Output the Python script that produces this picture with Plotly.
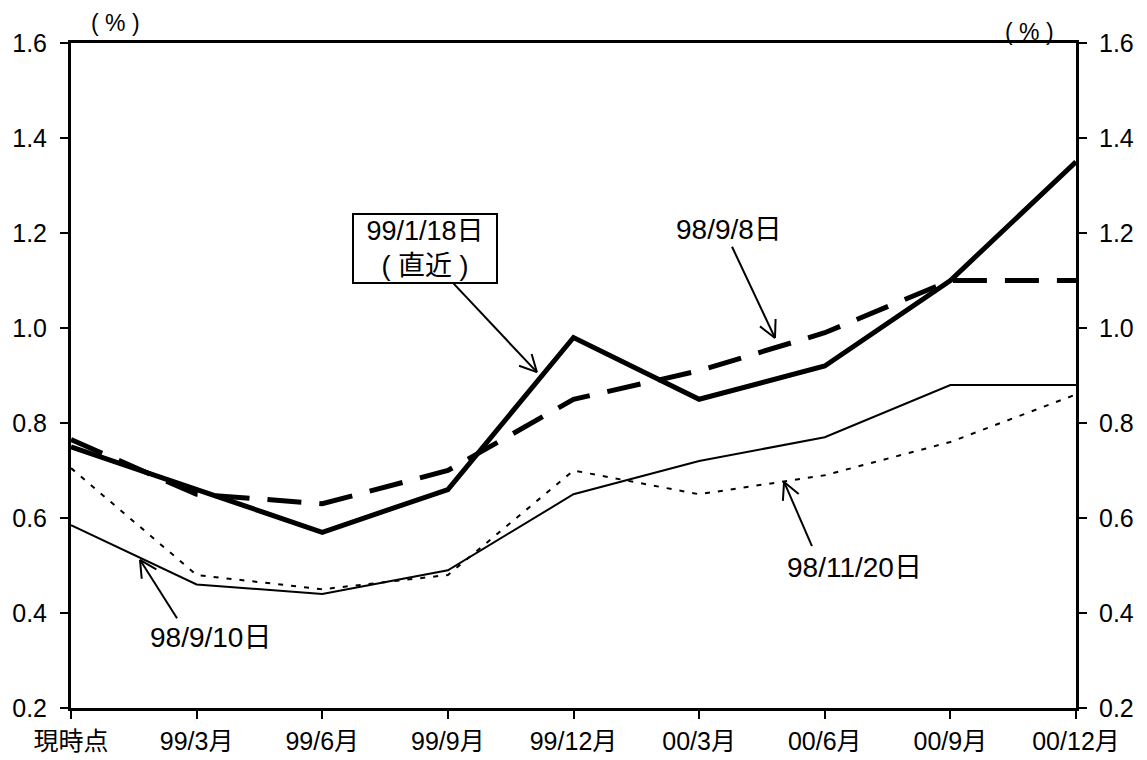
import math
import plotly.graph_objects as go

categories = ["現時点", "99/3月", "99/6月", "99/9月", "99/12月", "00/3月", "00/6月", "00/9月", "00/12月"]
s_990118 = [0.75, 0.66, 0.57, 0.66, 0.98, 0.85, 0.92, 1.10, 1.35]
s_980908 = [0.765, 0.65, 0.63, 0.70, 0.85, 0.91, 0.99, 1.10, 1.10]
s_980910 = [0.585, 0.46, 0.44, 0.49, 0.65, 0.72, 0.77, 0.88, 0.88]
s_981120 = [0.705, 0.48, 0.45, 0.48, 0.70, 0.65, 0.69, 0.76, 0.86]
y_ticks = [0.2, 0.4, 0.6, 0.8, 1.0, 1.2, 1.4, 1.6]

FONT = "Liberation Sans, Arial, Noto Sans CJK JP, sans-serif"
W, H = 1147, 760
ML, MR, MT, MB = 71, 71, 43, 52
YMIN, YMAX = 0.2, 1.6
XMAX = len(categories) - 1

fig = go.Figure()
fig.add_trace(go.Scatter(x=categories, y=s_981120, mode="lines", name="98/11/20日",
                         line=dict(color="black", width=2, dash="5px,8px")))
fig.add_trace(go.Scatter(x=categories, y=s_980910, mode="lines", name="98/9/10日",
                         line=dict(color="black", width=2)))
fig.add_trace(go.Scatter(x=categories, y=s_980908, mode="lines", name="98/9/8日",
                         line=dict(color="black", width=5, dash="34px,18px")))
fig.add_trace(go.Scatter(x=categories, y=s_990118, mode="lines", name="99/1/18日（直近）",
                         line=dict(color="black", width=5), yaxis="y2"))

axis_common = dict(showline=True, linecolor="black", linewidth=3, ticks="outside",
                   ticklen=8, tickwidth=2, tickcolor="black", showgrid=False, zeroline=False,
                   automargin=False,
                   tickfont=dict(family=FONT, size=25, color="black"))

fig.update_layout(
    width=W, height=H, autosize=False,
    margin=dict(l=ML, r=MR, t=MT, b=MB),
    plot_bgcolor="white", paper_bgcolor="white",
    showlegend=False,
    font=dict(family=FONT, size=25, color="black"),
    xaxis=dict(type="category", range=[0, XMAX], mirror=True, ticklabelstandoff=1, **axis_common),
    yaxis=dict(range=[YMIN, YMAX], tickvals=y_ticks, tickformat=".1f", side="left",
               ticklabelstandoff=8, **axis_common),
    yaxis2=dict(range=[YMIN, YMAX], tickvals=y_ticks, tickformat=".1f", side="right",
                overlaying="y", matches="y", ticklabelstandoff=7, **axis_common),
)

ann_font = dict(family=FONT, size=28, color="black")

# text labels
fig.add_annotation(x=2.818, y=1.167, xref="x", yref="y", text="99/1/18日<br>( 直近 )",
                   showarrow=False, font=dict(family=FONT, size=27, color="black"),
                   bordercolor="black", borderwidth=2, borderpad=1, bgcolor="white",
                   width=140, align="center", xanchor="center", yanchor="middle")
fig.add_annotation(x=5.238, y=1.208, xref="x", yref="y", text="98/9/8日",
                   showarrow=False, font=ann_font, xanchor="center", yanchor="middle")
fig.add_annotation(x=1.107, y=0.349, xref="x", yref="y", text="98/9/10日",
                   showarrow=False, font=ann_font, xanchor="center", yanchor="middle")
fig.add_annotation(x=6.233, y=0.495, xref="x", yref="y", text="98/11/20日",
                   showarrow=False, font=ann_font, xanchor="center", yanchor="middle")

# pixel-space helpers for drawing open (V-shaped) arrowheads
PW, PH = W - ML - MR, H - MT - MB
def to_px(xi, v):
    return ML + xi / XMAX * PW, MT + (YMAX - v) / (YMAX - YMIN) * PH
def to_data(px, py):
    return (px - ML) / PW * XMAX, YMAX - (py - MT) / PH * (YMAX - YMIN)

# arrows (tail -> head) in data coordinates
arrows = [
    ((3.033, 1.097), (3.709, 0.907)),
    ((5.262, 1.171), (5.604, 0.979)),
    ((0.844, 0.389), (0.549, 0.512)),
    ((5.898, 0.541), (5.676, 0.676)),
]
ARM, ANG = 19, math.radians(27)
line_style = dict(color="black", width=2)
for (tx, ty), (hx, hy) in arrows:
    fig.add_shape(type="line", x0=tx, y0=ty, x1=hx, y1=hy, xref="x", yref="y", line=line_style)
    tpx, tpy = to_px(tx, ty)
    hpx, hpy = to_px(hx, hy)
    base = math.atan2(tpy - hpy, tpx - hpx)
    for s in (-1, 1):
        a = base + s * ANG
        ex, ey = to_data(hpx + ARM * math.cos(a), hpy + ARM * math.sin(a))
        fig.add_shape(type="line", x0=hx, y0=hy, x1=ex, y1=ey, xref="x", yref="y",
                      line=line_style)

# unit labels
fig.add_annotation(x=(115 - ML) / PW, y=(H - MB - 23) / PH, xref="paper", yref="paper",
                   text="( % )", showarrow=False, xanchor="center", yanchor="middle",
                   font=dict(family=FONT, size=23, color="black"))
fig.add_annotation(x=(1029 - ML) / PW, y=(H - MB - 32) / PH, xref="paper", yref="paper",
                   text="( % )", showarrow=False, xanchor="center", yanchor="middle",
                   font=dict(family=FONT, size=23, color="black"))

fig.write_html("out.html", config={"displayModeBar": False},
               post_script="document.body.style.margin='0';document.body.style.overflow='hidden';")
